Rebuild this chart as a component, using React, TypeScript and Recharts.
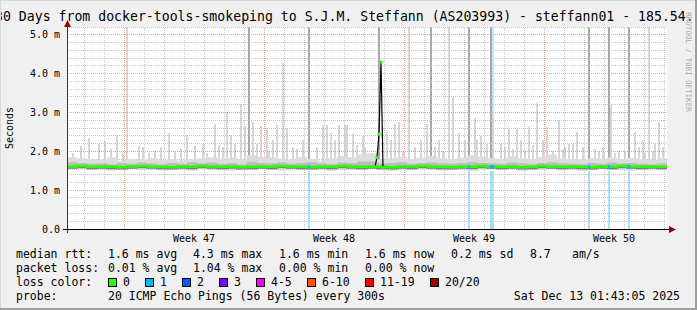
import React from "react";
import { ComposedChart, Area, Line, Bar, XAxis, YAxis, ReferenceLine } from "recharts";

const MONO = '"DejaVu Sans Mono", "Liberation Mono", monospace';

// ─── Data: x = days from the left edge of the graph, y = round trip in ms ─────

const sampleDays = Array.from({ length: 61 }, (_, i) => i * 0.5);

const medianRtt = [
  1.61, 1.62, 1.60, 1.61, 1.60, 1.59, 1.61, 1.62, 1.61, 1.60,
  1.59, 1.61, 1.60, 1.62, 1.61, 1.60, 1.61, 1.59, 1.60, 1.61,
  1.60, 1.62, 1.61, 1.60, 1.59, 1.61, 1.60, 1.62, 1.61, 1.60,
  1.61, 1.60, 1.59, 1.61, 1.60, 1.62, 1.61, 1.60, 1.59, 1.61,
  1.60, 1.62, 1.61, 1.60, 1.61, 1.59, 1.60, 1.62, 1.61, 1.60,
  1.61, 1.60, 1.59, 1.61, 1.60, 1.62, 1.61, 1.60, 1.61, 1.60, 1.61,
];
const smokeLow = [
  1.52, 1.53, 1.51, 1.52, 1.50, 1.52, 1.53, 1.51, 1.52, 1.50,
  1.51, 1.52, 1.50, 1.53, 1.52, 1.51, 1.50, 1.52, 1.51, 1.53,
  1.52, 1.50, 1.51, 1.52, 1.53, 1.51, 1.50, 1.52, 1.51, 1.52,
  1.53, 1.51, 1.50, 1.52, 1.51, 1.53, 1.52, 1.50, 1.51, 1.52,
  1.50, 1.52, 1.53, 1.51, 1.52, 1.50, 1.51, 1.52, 1.53, 1.51,
  1.52, 1.50, 1.51, 1.53, 1.52, 1.51, 1.50, 1.52, 1.51, 1.52, 1.51,
];
const smokeCore = [
  1.57, 1.58, 1.56, 1.57, 1.56, 1.55, 1.57, 1.58, 1.57, 1.56,
  1.55, 1.57, 1.56, 1.58, 1.57, 1.56, 1.57, 1.55, 1.56, 1.57,
  1.56, 1.58, 1.57, 1.56, 1.55, 1.57, 1.56, 1.58, 1.57, 1.56,
  1.57, 1.56, 1.55, 1.57, 1.56, 1.58, 1.57, 1.56, 1.55, 1.57,
  1.56, 1.58, 1.57, 1.56, 1.57, 1.55, 1.56, 1.58, 1.57, 1.56,
  1.57, 1.56, 1.55, 1.57, 1.56, 1.58, 1.57, 1.56, 1.57, 1.56, 1.57,
];
const smokeMid = [
  1.72, 1.70, 1.68, 1.69, 1.67, 1.70, 1.68, 1.71, 1.69, 1.67,
  1.70, 1.68, 1.72, 1.69, 1.71, 1.68, 1.70, 1.67, 1.73, 1.70,
  1.69, 1.71, 1.68, 1.70, 1.72, 1.69, 1.67, 1.71, 1.70, 1.74,
  1.73, 1.69, 1.70, 1.72, 1.68, 1.70, 1.71, 1.69, 1.68, 1.70,
  1.72, 1.70, 1.69, 1.68, 1.71, 1.69, 1.67, 1.70, 1.72, 1.69,
  1.68, 1.67, 1.70, 1.68, 1.71, 1.69, 1.70, 1.68, 1.67, 1.69, 1.68,
];
const smokeHigh = [
  1.85, 1.82, 1.80, 1.78, 1.84, 1.76, 1.80, 1.78, 1.82, 1.77,
  1.80, 1.76, 1.79, 1.82, 1.85, 1.80, 1.83, 1.78, 1.90, 1.86,
  1.84, 1.80, 1.78, 1.85, 1.80, 1.76, 1.82, 1.88, 1.85, 1.92,
  1.95, 1.80, 1.82, 1.86, 1.80, 1.84, 1.88, 1.82, 1.80, 1.84,
  1.90, 1.86, 1.83, 1.80, 1.87, 1.82, 1.80, 1.85, 1.92, 1.82,
  1.80, 1.78, 1.82, 1.80, 1.84, 1.79, 1.83, 1.80, 1.78, 1.82, 1.80,
];

// the one burst where the median itself jumped
const burstDays = [15.4, 15.5, 15.6, 15.7, 15.8];
const burstRtt = [1.6, 1.84, 2.44, 4.3, 1.58];

// single pings well above the smoke
const spikeDays = [
  0.3, 0.7, 1.1, 1.6, 1.9, 2.2, 2.5, 2.8, 3.0, 3.6, 3.8, 4.1, 4.4, 4.7, 5.1, 5.4,
  5.7, 6.0, 6.4, 6.8, 7.0, 7.4, 7.6, 7.8, 8.0, 8.2, 8.4, 8.7, 8.9, 9.3, 9.5, 9.7,
  10.0, 10.1, 10.3, 10.5, 10.8, 11.0, 11.3, 11.5, 11.8, 12.5, 12.8, 13.0, 13.2,
  13.4, 13.6, 13.9, 14.0, 14.3, 14.5, 14.8, 14.9, 16.0, 16.2, 16.4, 16.6, 16.8,
  17.1, 17.4, 17.7, 18.0, 18.4, 18.6, 18.8, 19.1, 19.3, 19.6, 19.9, 20.4, 20.5,
  20.7, 21.0, 21.3, 21.7, 21.9, 22.1, 22.3, 22.5, 22.7, 22.9, 23.1, 23.3, 23.5,
  23.8, 24.0, 24.3, 24.6, 24.8, 24.9, 25.1, 25.3, 25.5, 25.8, 26.4, 26.6, 26.8,
  27.2, 27.4, 27.6, 27.9, 28.4, 28.6, 28.8, 28.9, 29.1, 29.3, 29.4, 29.6, 29.8,
];
const spikeTop = [
  1.95, 2.13, 2.33, 2.2, 2.27, 2.05, 2.42, 1.95, 5.2, 2.13, 2.1, 1.95, 2.0, 2.1, 2.46, 2.0,
  2.05, 2.42, 2.13, 2.2, 1.95, 2.7, 2.15, 2.1, 3.0, 2.42, 2.2, 3.23, 2.65, 2.75, 2.2, 2.65,
  2.6, 2.0, 2.3, 2.68, 4.28, 2.6, 2.1, 2.05, 2.3, 2.1, 2.68, 2.68, 2.47,
  2.3, 2.68, 2.68, 2.68, 2.45, 2.15, 2.4, 2.1, 2.5, 2.3, 2.7, 2.75, 2.0,
  5.2, 2.1, 2.3, 2.7, 2.1, 2.3, 2.0, 5.2, 3.4, 2.47, 2.3, 2.85, 2.3,
  2.4, 2.2, 2.85, 2.2, 2.1, 2.6, 2.05, 2.6, 2.3, 2.0, 2.62, 2.15, 3.25,
  2.3, 2.62, 2.0, 2.8, 2.05, 2.1, 2.2, 2.2, 2.5, 2.1, 2.05, 2.0, 2.1,
  3.2, 1.95, 2.0, 2.0, 2.5, 2.1, 2.3, 1.95, 5.2, 2.0, 2.2, 2.75, 2.1,
];
// intervals where the smoke ran off the top of the graph
const saturatedDays = [9.1, 12.1, 15.6, 18.2, 20.1, 21.2, 26.1, 27.1, 28.1];
// intervals with 1/20 packets lost
const lossDays = [12.1, 20.1, 21.2, 21.3, 26.1, 27.1, 28.1];
const lossHighDays = [21.3];

const weekTicks = [6.35, 13.35, 20.35, 27.35];
const weekLabels = ["Week 47", "Week 48", "Week 49", "Week 50"];
const weekStarts = [2.85, 9.85, 16.85, 23.85];
const dayLines = Array.from({ length: 30 }, (_, k) => 0.85 + k);
const rttTicks = [0, 1, 2, 3, 4, 5];
const rttMinor = Array.from({ length: 26 }, (_, i) => +(0.2 * (i + 1)).toFixed(1));

const Y_MAX = 5.2;
const SPIKE_BASE = 1.72;
const LOSS_TOP = 1.5;
const LOSS_HIGH_BASE = 2.85;

const TITLE = "30 Days from docker-tools-smokeping to S.J.M. Steffann (AS203993) - steffann01 - 185.54.";
const medianStats = ["1.6 ms avg", "4.3 ms max", "1.6 ms min", "1.6 ms now", "0.2 ms sd"];
const lossStats = ["0.01 % avg", "1.04 % max", "0.00 % min", "0.00 % now"];
const lossLabels = ["0", "1", "2", "3", "4-5", "6-10", "11-19", "20/20"];
const lossColors = ["#26ff00", "#00b8ff", "#0059ff", "#7e00ff", "#ff00ff", "#ff5500", "#ff0000", "#a10000"];

// ─── Layout ───────────────────────────────────────────────────────────────────

const W = 697;
const H = 310;
const statCols = [108, 193, 279, 365, 451];
const boxCols = [108, 145, 182, 219, 256, 307, 365, 430];

type Row = { d: number; [k: string]: any };

function rowsFrom(fill: (at: (d: number) => Row) => void): Row[] {
  const map = new Map<number, Row>();
  const at = (d: number) => {
    const k = Math.round(d * 10);
    if (!map.has(k)) map.set(k, { d: k / 10 });
    return map.get(k)!;
  };
  fill(at);
  return [...map.values()].sort((a, b) => a.d - b.d);
}

const smokeRows = sampleDays.map((d, i) => ({
  d,
  median: medianRtt[i],
  low: smokeLow[i],
  core: smokeCore[i],
  mid: smokeMid[i],
  high: smokeHigh[i],
}));

const markRows = rowsFrom((at) => {
  spikeDays.forEach((d, i) => (at(d).spike = [SPIKE_BASE, spikeTop[i]]));
  saturatedDays.forEach((d) => (at(d).full = [SPIKE_BASE, Y_MAX]));
  lossDays.forEach((d) => (at(d).loss = [0, LOSS_TOP]));
  lossHighDays.forEach((d) => (at(d).lossHigh = [LOSS_HIGH_BASE, Y_MAX]));
});

const topRows = rowsFrom((at) => {
  burstDays.forEach((d, i) => (at(d).burst = burstRtt[i]));
  lossDays.forEach((d) => (at(d).lossMed = [1.56, 1.65]));
});

const layer: React.CSSProperties = { position: "absolute", left: 0, top: 0 };
const hiddenX = (id: string) => (
  <XAxis xAxisId={id} type="number" dataKey="d" domain={[0, 30]} allowDataOverflow hide />
);

function Txt({ x, y, size = 11.5, right, children }: { x: number; y: number; size?: number; right?: boolean; children: React.ReactNode }) {
  const pos: React.CSSProperties = right ? { right: W - x } : { left: x };
  return (
    <div style={{ position: "absolute", ...pos, top: y - 8, lineHeight: "16px", fontSize: size, whiteSpace: "pre" }}>
      {children}
    </div>
  );
}

const BurstDot = (p: any) => (
  <rect key={`b${p.index}`} x={p.cx - 1.5} y={p.cy - 1.5} width={3} height={3} fill="#26ff00" />
);

export default function App() {
  const tick = { fontFamily: MONO, fontSize: 10, fill: "#000" };
  return (
    <div style={{ position: "absolute", left: 0, top: 0, width: W, height: H, background: "#f0f0f0", overflow: "hidden", fontFamily: MONO, color: "#000" }}>
      <div style={{ position: "absolute", left: 67, top: 27, width: 600, height: 202, background: "#fff" }} />

      {/* grid, axis labels, spikes and loss marks */}
      <div style={layer}>
        <ComposedChart width={W} height={H} data={markRows} margin={{ top: 27, right: 30, bottom: 51, left: 7 }}>
          <XAxis
            type="number"
            dataKey="d"
            domain={[0, 30]}
            ticks={weekTicks}
            interval={0}
            tickFormatter={(v: number) => weekLabels[weekTicks.indexOf(v)] ?? ""}
            axisLine={false}
            tickLine={false}
            tickSize={0}
            tickMargin={5.5}
            height={30}
            tick={tick}
            allowDataOverflow
          />
          <YAxis
            type="number"
            domain={[0, Y_MAX]}
            ticks={rttTicks}
            interval={0}
            tickFormatter={(v: number) => (v === 0 ? "0.0" : `${v.toFixed(1)} m`)}
            axisLine={false}
            tickLine={false}
            tickSize={0}
            tickMargin={7}
            width={60}
            tick={tick}
            allowDataOverflow
          />
          {hiddenX("s")}
          {hiddenX("f")}
          {hiddenX("l")}
          {hiddenX("u")}
          {dayLines.map((d) => (
            <ReferenceLine key={`v${d}`} x={d} stroke="#c4c4c4" strokeDasharray="1 1" shapeRendering="crispEdges" />
          ))}
          {rttMinor.filter((v) => v % 1 !== 0).map((v) => (
            <ReferenceLine key={`h${v}`} y={v} stroke="#c4c4c4" strokeDasharray="1 1" shapeRendering="crispEdges" />
          ))}
          {weekStarts.map((d) => (
            <ReferenceLine key={`w${d}`} x={d} stroke="#f19a9a" strokeDasharray="1 1" shapeRendering="crispEdges" />
          ))}
          {rttTicks.slice(1).map((v) => (
            <ReferenceLine key={`m${v}`} y={v} stroke="#f19a9a" strokeDasharray="1 1" shapeRendering="crispEdges" />
          ))}
          <Bar xAxisId="s" dataKey={(r: Row) => r.spike} fill="#d6d6d6" barSize={2} isAnimationActive={false} shapeRendering="crispEdges" />
          <Bar xAxisId="f" dataKey={(r: Row) => r.full} fill="#a8a8a8" barSize={2} isAnimationActive={false} shapeRendering="crispEdges" />
          <Bar xAxisId="l" dataKey={(r: Row) => r.loss} fill="#a6e1f6" barSize={2} isAnimationActive={false} shapeRendering="crispEdges" />
          <Bar xAxisId="u" dataKey={(r: Row) => r.lossHigh} fill="#bfe9f8" barSize={2} isAnimationActive={false} shapeRendering="crispEdges" />
        </ComposedChart>
      </div>

      {/* smoke and median */}
      <div style={layer}>
        <ComposedChart width={W} height={H} data={smokeRows} margin={{ top: 27, right: 30, bottom: 81, left: 67 }}>
          <XAxis type="number" dataKey="d" domain={[0, 30]} allowDataOverflow hide />
          <YAxis type="number" domain={[0, Y_MAX]} allowDataOverflow hide />
          <Area type="stepAfter" dataKey={(r: Row) => [r.low, r.high]} fill="#dcdcdc" fillOpacity={1} stroke="none" isAnimationActive={false} />
          <Area type="stepAfter" dataKey={(r: Row) => [r.core, r.mid]} fill="#bdbdbd" fillOpacity={1} stroke="none" isAnimationActive={false} />
          <Line type="stepAfter" dataKey="core" stroke="#7c7c7c" strokeWidth={1.5} dot={false} isAnimationActive={false} />
          <Line type="stepAfter" dataKey="median" stroke="#26ff00" strokeWidth={2.5} dot={false} isAnimationActive={false} />
        </ComposedChart>
      </div>

      {/* burst and loss-coloured median */}
      <div style={layer}>
        <ComposedChart width={W} height={H} data={topRows} margin={{ top: 27, right: 30, bottom: 81, left: 67 }}>
          <XAxis type="number" dataKey="d" domain={[0, 30]} allowDataOverflow hide />
          <YAxis type="number" domain={[0, Y_MAX]} allowDataOverflow hide />
          <Bar dataKey={(r: Row) => r.lossMed} fill="#00b8ff" barSize={2} isAnimationActive={false} />
          <Line type="linear" dataKey="burst" stroke="#000" strokeWidth={1.2} connectNulls dot={BurstDot} isAnimationActive={false} />
        </ComposedChart>
      </div>

      {/* axes with arrow heads */}
      <svg style={layer} width={W} height={H}>
        <line x1={67.5} y1={24} x2={67.5} y2={233} stroke="#333" />
        <line x1={63} y1={229.5} x2={670} y2={229.5} stroke="#000" />
        <polygon points="67.5,20 64,27 71,27" fill="#9b0000" />
        <polygon points="676,229.5 669,226 669,233" fill="#9b0000" />
      </svg>

      <Txt x={-5} y={17} size={13.2}>{TITLE}</Txt>
      <div
        style={{
          position: "absolute", left: 10, top: 128, fontSize: 10, lineHeight: "12px", whiteSpace: "pre",
          transform: "translate(-50%, -50%) rotate(-90deg)",
        }}
      >
        Seconds
      </div>
      <div
        style={{
          position: "absolute", left: 688, top: 62, fontSize: 7.5, lineHeight: "9px", whiteSpace: "pre", color: "#aaa",
          transform: "translate(-50%, -50%) rotate(90deg)",
        }}
      >
        RRDTOOL / TOBI OETIKER
      </div>

      <Txt x={16} y={254}>median rtt:</Txt>
      {medianStats.map((s, i) => <Txt key={s + i} x={statCols[i]} y={254}>{s}</Txt>)}
      <Txt x={530} y={254}>8.7</Txt>
      <Txt x={572} y={254}>am/s</Txt>

      <Txt x={16} y={268}>packet loss:</Txt>
      {lossStats.map((s, i) => <Txt key={s + i} x={statCols[i]} y={268}>{s}</Txt>)}

      <Txt x={16} y={282}>loss color:</Txt>
      {lossLabels.map((l, i) => (
        <React.Fragment key={l}>
          <div style={{ position: "absolute", left: boxCols[i], top: 278, width: 9, height: 9, boxSizing: "border-box", border: "1px solid #000", background: lossColors[i] }} />
          <Txt x={boxCols[i] + 15} y={282}>{l}</Txt>
        </React.Fragment>
      ))}

      <Txt x={16} y={296}>probe:</Txt>
      <Txt x={108} y={296}>20 ICMP Echo Pings (56 Bytes) every 300s</Txt>
      <Txt x={680} y={296} right>Sat Dec 13 01:43:05 2025</Txt>

      {/* 3d frame */}
      <div style={{ position: "absolute", left: 0, top: 0, width: W, height: 1, background: "#d8d8d8" }} />
      <div style={{ position: "absolute", left: 0, top: 0, width: 1, height: H, background: "#d8d8d8" }} />
      <div style={{ position: "absolute", left: 0, top: H - 2, width: W, height: 2, background: "#9e9e9e" }} />
      <div style={{ position: "absolute", left: W - 2, top: 0, width: 2, height: H, background: "#9e9e9e" }} />
    </div>
  );
}
